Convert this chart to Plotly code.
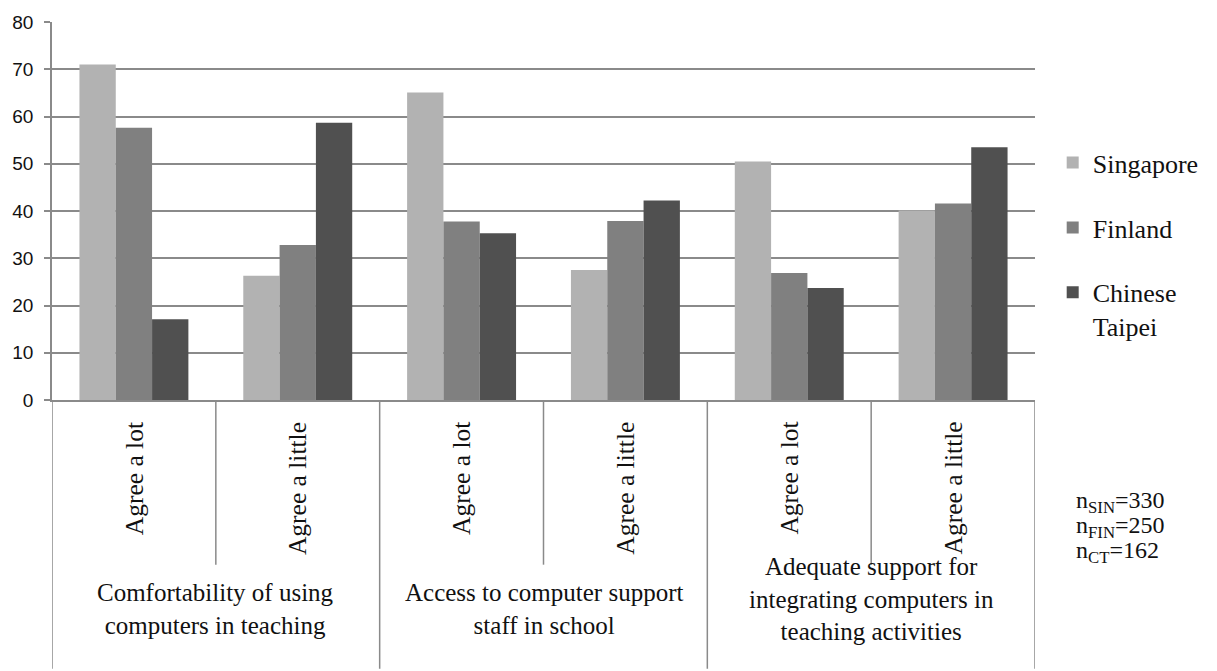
import plotly.graph_objects as go

groups = [
    "Comfortability of using<br>computers in teaching",
    "Access to computer support<br>staff in school",
    "Adequate support for<br>integrating computers in<br>teaching activities",
]
responses = ["Agree a lot", "Agree a little"]
series_names = ["Singapore", "Finland", "Chinese<br>Taipei"]
singapore = [71.0, 26.3, 65.1, 27.5, 50.5, 40.1]
finland = [57.6, 32.8, 37.8, 37.9, 26.9, 41.6]
taipei = [17.1, 58.7, 35.3, 42.2, 23.7, 53.5]
sample_notes = ["n<sub>SIN</sub>=330", "n<sub>FIN</sub>=250", "n<sub>CT</sub>=162"]
y_ticks = [0, 10, 20, 30, 40, 50, 60, 70, 80]

colors = ["#b2b2b2", "#808080", "#505050"]
SERIF = "Liberation Serif, Times New Roman, serif"
GRID = "#8a8a8a"

inner_labels = [r for _ in groups for r in responses]
xs = list(range(len(inner_labels)))

fig = go.Figure()
for name, vals, col in zip(series_names, [singapore, finland, taipei], colors):
    fig.add_trace(go.Bar(x=xs, y=vals, name=name, marker=dict(color=col, line=dict(width=0)),
                         legendgroup=name))

H_PLOT = 381.0
def py(px_below):
    return -px_below / H_PLOT

shapes = []
annotations = []
n_inner = len(responses)
# dividers
for i in range(len(inner_labels) + 1):
    xpos = i - 0.5
    if i % n_inner == 0:
        y1 = py(271)
    else:
        y1 = py(166)
    shapes.append(dict(type="line", xref="x", yref="paper", x0=xpos, x1=xpos, y0=0, y1=y1,
                       line=dict(color=GRID, width=1.5)))

for i, lab in enumerate(inner_labels):
    annotations.append(dict(x=i, y=py(20), xref="x", yref="paper", text=lab, textangle=-90,
                            showarrow=False, xanchor="center", yanchor="top",
                            font=dict(family=SERIF, size=25.5, color="#111")))

group_centers = [py(211), py(211), py(201)]
for g, lab in enumerate(groups):
    xc = g * n_inner + (n_inner - 1) / 2
    annotations.append(dict(x=xc, y=group_centers[g], xref="x", yref="paper", text=lab,
                            showarrow=False, xanchor="center", yanchor="middle", align="center",
                            font=dict(family=SERIF, size=25, color="#111")))

for k, note in enumerate(sample_notes):
    annotations.append(dict(x=(1074 - 50) / 985.0, y=py(103 + 25 * k), xref="paper", yref="paper",
                            text=note, showarrow=False, xanchor="left", yanchor="middle",
                            font=dict(family=SERIF, size=24, color="#111")))

fig.update_layout(
    width=1217, height=671,
    margin=dict(l=50, r=182, t=19, b=271),
    paper_bgcolor="white", plot_bgcolor="white",
    barmode="group", bargap=0.335, bargroupgap=0,
    showlegend=True,
    legend=dict(x=1.018, y=0.69, xanchor="left", yanchor="top", valign="top",
                font=dict(family=SERIF, size=26, color="#111"),
                tracegroupgap=28, itemclick=False, bgcolor="rgba(0,0,0,0)"),
    shapes=shapes, annotations=annotations,
    xaxis=dict(range=[-0.5, len(inner_labels) - 0.5], showticklabels=False, showgrid=False,
               zeroline=False, showline=True, linecolor=GRID, linewidth=1.5, ticks=""),
    yaxis=dict(range=[0, 80], tickvals=y_ticks, showgrid=True, gridcolor=GRID, gridwidth=1.5,
               zeroline=False, showline=True, linecolor=GRID, linewidth=1.5,
               ticks="outside", ticklen=6, tickcolor=GRID, tickwidth=1.5, ticklabelstandoff=7,
               tickfont=dict(family="Liberation Sans, Arial, sans-serif", size=19, color="#111")),
)

fig.write_html("out.html")
